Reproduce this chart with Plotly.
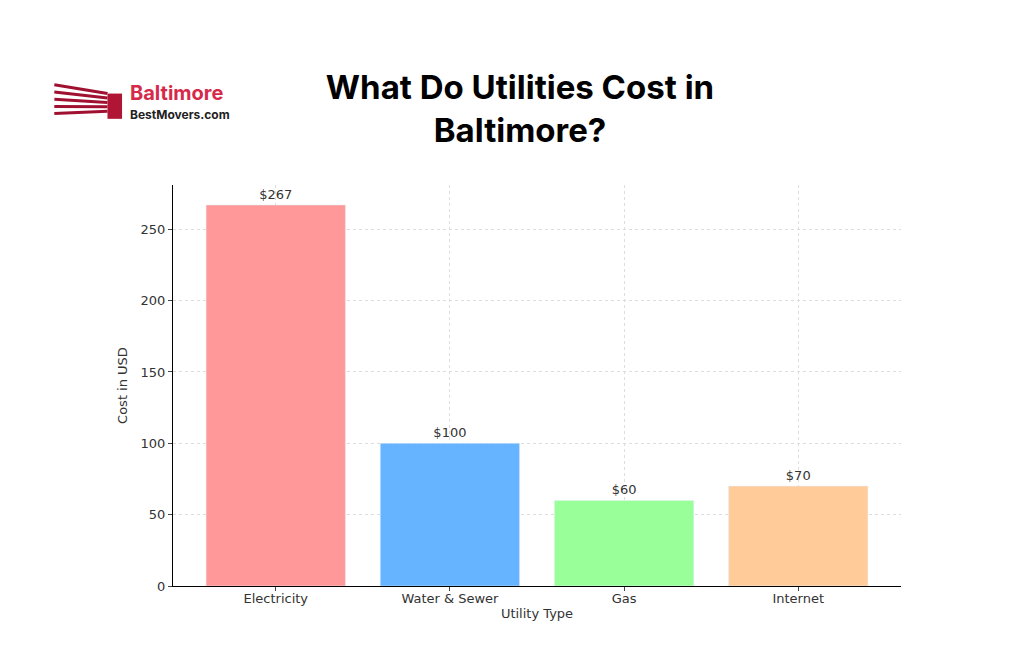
import plotly.graph_objects as go

utilities = ["Electricity", "Water & Sewer", "Gas", "Internet"]
costs = [267, 100, 60, 70]
labels = ["$267", "$100", "$60", "$70"]
colors = ["#ff9999", "#66b3ff", "#99ff99", "#ffcc99"]

fig = go.Figure(go.Bar(
    x=utilities, y=costs, text=labels, textposition="outside",
    marker_color=colors, width=0.8, cliponaxis=False,
    textfont=dict(size=13, color="#333"),
))

axis_font = dict(family="DejaVu Sans", size=13, color="#333")
fig.update_layout(
    width=1024, height=658, plot_bgcolor="white", paper_bgcolor="white",
    margin=dict(l=165, r=131, t=177, b=80),
    showlegend=False,
    title=dict(text="<b>What Do Utilities Cost in<br>Baltimore?</b>", x=0.5, xanchor="center",
               y=0.862, yanchor="middle",
               font=dict(family="Inter, Lato", size=33, color="black")),
    font=axis_font,
)
fig.update_xaxes(range=[-0.59, 3.59], showline=True, linecolor="black", ticks="outside",
                 ticklen=4, ticklabelstandoff=-4, showgrid=True, gridcolor="#dddddd", griddash="dot",
                 title=dict(text="Utility Type", standoff=4, font=axis_font), tickfont=axis_font)
fig.update_yaxes(range=[0, 281], showline=True, linecolor="black", ticks="outside",
                 ticklen=4, tickvals=[0, 50, 100, 150, 200, 250], showgrid=True,
                 gridcolor="#dddddd", griddash="dot", zeroline=False,
                 title=dict(text="Cost in USD", standoff=10, font=axis_font), tickfont=axis_font)

# logo
for i in range(5):
    fig.add_shape(type="line", xref="paper", yref="paper",
                  x0=-0.163, x1=-0.09, y0=1.25 - i * 0.018, y1=1.228 - i * 0.011,
                  line=dict(color="#a01030", width=3))
fig.add_shape(type="rect", xref="paper", yref="paper", x0=-0.09, x1=-0.07,
              y0=1.165, y1=1.228, fillcolor="#b01535", line_width=0)
fig.add_annotation(text="<b>Baltimore</b>", xref="paper", yref="paper", x=-0.062, y=1.265,
                   xanchor="left", yanchor="top", showarrow=False,
                   font=dict(family="Inter", size=20, color="#d62a4a"))
fig.add_annotation(text="<b>BestMovers.com</b>", xref="paper", yref="paper", x=-0.062, y=1.2,
                   xanchor="left", yanchor="top", showarrow=False,
                   font=dict(family="Inter", size=12, color="#222"))

fig.write_html("out.html")
